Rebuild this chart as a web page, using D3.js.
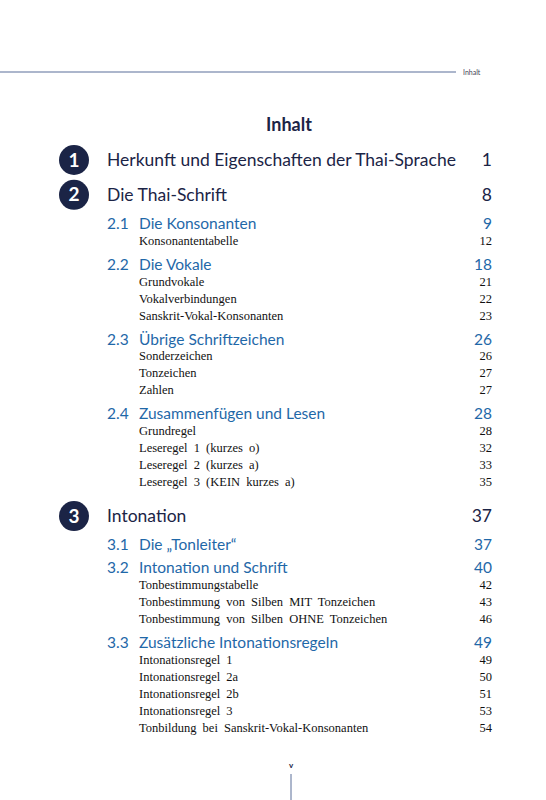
<!DOCTYPE html>
<html><head><meta charset="utf-8">
<script src="https://cdn.jsdelivr.net/npm/d3@7"></script>
<style>body{margin:0;background:#fff}</style></head>
<body><svg id="c" width="546" height="800"></svg>
<script>
const levels = [0,0,1,2,1,2,2,2,1,2,2,2,1,2,2,2,2,0,1,1,2,2,2,1,2,2,2,2,2];
const numbers = ["1","2","2.1","","2.2","","","","2.3","","","","2.4","","","","","3","3.1","3.2","","","","3.3","","","","",""];
const labels = ["Herkunft und Eigenschaften der Thai-Sprache","Die Thai-Schrift","Die Konsonanten","Konsonantentabelle","Die Vokale","Grundvokale","Vokalverbindungen","Sanskrit-Vokal-Konsonanten","Übrige Schriftzeichen","Sonderzeichen","Tonzeichen","Zahlen","Zusammenfügen und Lesen","Grundregel","Leseregel 1 (kurzes o)","Leseregel 2 (kurzes a)","Leseregel 3 (KEIN kurzes a)","Intonation","Die „Tonleiter“","Intonation und Schrift","Tonbestimmungstabelle","Tonbestimmung von Silben MIT Tonzeichen","Tonbestimmung von Silben OHNE Tonzeichen","Zusätzliche Intonationsregeln","Intonationsregel 1","Intonationsregel 2a","Intonationsregel 2b","Intonationsregel 3","Tonbildung bei Sanskrit-Vokal-Konsonanten"];
const pages = ["1","8","9","12","18","21","22","23","26","26","27","27","28","28","32","33","35","37","37","40","42","43","46","49","49","50","51","53","54"];

const svg = d3.select("#c");
const navy="#1b2446", blue="#1f68a8";
const gap=(p,c)=>c===0?35:(c===1?(p===0?29:(p===1?23:24)):17);
let acc=0; const cum=levels.map((l,i)=>{if(i>0)acc+=gap(levels[i-1],l);return acc;});
const y=d3.scaleLinear().domain([0,d3.max(cum)]).range([160,727]);
const xr=492;

svg.append("line").attr("x1",0).attr("x2",456).attr("y1",72).attr("y2",72).attr("stroke","#5a6f99").attr("stroke-width",1.2);
svg.append("text").attr("x",463).attr("y",74.5).attr("font-family","Lato").attr("font-size",7).attr("fill","#445").text("Inhalt");
svg.append("text").attr("x",289).attr("y",131).attr("text-anchor","middle").attr("font-family","Lato").attr("font-weight","bold").attr("font-size",18).attr("fill",navy).text("Inhalt");

const g=svg.selectAll("g.e").data(levels.map((l,i)=>({l,n:numbers[i],t:labels[i],p:pages[i],y:y(cum[i])}))).join("g").attr("transform",d=>`translate(0,${d.y})`);
const ch=g.filter(d=>d.l===0);
ch.append("circle").attr("cx",74).attr("cy",0).attr("r",15).attr("fill",navy);
ch.append("text").attr("x",74).attr("y",6.5).attr("text-anchor","middle").attr("font-family","Lato").attr("font-weight","bold").attr("font-size",19).attr("fill","#fff").text(d=>d.n);
ch.append("text").attr("x",107).attr("y",6).attr("font-family","Lato").attr("font-size",17.5).attr("fill",navy).text(d=>d.t);
ch.append("text").attr("x",xr).attr("y",6).attr("text-anchor","end").attr("font-family","Lato").attr("font-size",17.5).attr("fill",navy).text(d=>d.p);
const se=g.filter(d=>d.l===1);
se.append("text").attr("x",107).attr("y",5.5).attr("font-family","Lato").attr("font-size",15.5).attr("fill",blue).text(d=>d.n);
se.append("text").attr("x",139).attr("y",5.5).attr("font-family","Lato").attr("font-size",15.5).attr("fill",blue).text(d=>d.t);
se.append("text").attr("x",xr).attr("y",5.5).attr("text-anchor","end").attr("font-family","Lato").attr("font-size",15.5).attr("fill",blue).text(d=>d.p);
const su=g.filter(d=>d.l===2);
su.append("text").attr("x",139).attr("y",4.5).attr("font-family","Liberation Serif").attr("font-size",12.5).attr("word-spacing",3).attr("fill","#111").text(d=>d.t);
su.append("text").attr("x",xr).attr("y",4.5).attr("text-anchor","end").attr("font-family","Liberation Serif").attr("font-size",12.5).attr("fill","#111").text(d=>d.p);

svg.append("text").attr("x",291).attr("y",768).attr("text-anchor","middle").attr("font-family","Lato").attr("font-weight","bold").attr("font-size",8).attr("fill",navy).text("v");
svg.append("line").attr("x1",291).attr("x2",291).attr("y1",774).attr("y2",800).attr("stroke","#5a6f99").attr("stroke-width",1);
</script></body></html>
